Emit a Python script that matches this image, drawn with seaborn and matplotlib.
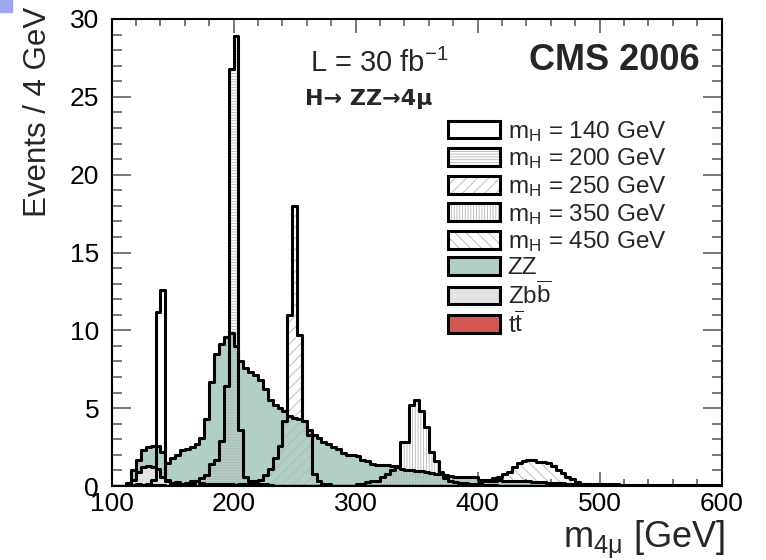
import numpy as np
import pandas as pd
import seaborn as sns
import matplotlib
matplotlib.use("Agg")
import matplotlib.pyplot as plt
from matplotlib.patches import Patch, Rectangle
from matplotlib.ticker import MultipleLocator
from matplotlib.legend_handler import HandlerTuple

# ---------------- data (Events / 4 GeV, bins 100..600) ----------------
bin_lo, bin_hi, bin_w = 100, 600, 4

zz = [0, 0, 0, 0.2, 1.0,  1.7, 2.3, 2.5, 2.6, 2.6,  2.2, 1.5, 1.8, 2.0, 2.3,
      2.4, 2.5, 2.7, 3.1, 4.3,  6.7, 8.5, 9.1, 9.6, 9.8,  9.0, 8.0, 7.6, 7.3, 7.1,
      6.8, 6.2, 5.5, 5.2, 5.0,  4.8, 4.5, 4.4, 4.3, 4.2,  3.6, 3.3, 3.1, 2.8, 2.7,
      2.5, 2.4, 2.1, 2.0, 2.0,  1.9, 1.7, 1.6, 1.4, 1.35,  1.35, 1.35, 1.3, 1.2, 1.1,
      1.0, 1.0, 0.95, 0.95, 0.9,  0.85, 0.8, 0.75, 0.7, 0.65,  0.6, 0.6, 0.6, 0.55, 0.55,
      0.4, 0.4, 0.35, 0.35, 0.4,  0.35, 0.3, 0.3, 0.3, 0.3,  0.3, 0.28, 0.25, 0.25, 0.22,
      0.2, 0.2, 0.18, 0.16, 0.15,  0.14, 0.13, 0.12, 0.12, 0.11,  0.11, 0.1, 0.1, 0.1, 0.09,
      0.09, 0.09, 0.08, 0.08, 0.08,  0.07, 0.07, 0.07, 0.07, 0.06,  0.06, 0.06, 0.06, 0.05, 0.05,
      0.05, 0.05, 0.04, 0.04, 0.04]

zbb = ([0, 0, 0, 0.1, 0.4,  0.9, 1.2, 1.3, 1.25, 1.1,  0.6, 0.3, 0.2, 0.25, 0.15,
        0.2, 0.3, 0.3, 0.2, 0.15,  0.1, 0.1, 0.15, 0.1, 0.1,  0.08, 0.1, 0.06, 0.05, 0.05]
       + [0.03] * 20 + [0.02] * 20 + [0.0] * 55)

ttbar = ([0, 0, 0, 0.05, 0.08,  0.1, 0.08, 0.06, 0.05, 0.05,  0.04, 0.03, 0.03, 0.02, 0.02]
         + [0.01] * 30 + [0.0] * 80)

sig140 = ([0.0] * 5 + [0, 0, 0.1, 0.4, 11.2,  12.6, 0.4, 0.15, 0.1, 0.05] + [0.0] * 110)

sig200 = ([0.0] * 15 + [0.1, 0.2, 0.3, 0.5, 0.7,  1.4, 1.7, 2.9, 6.4, 26.8,
                        28.9, 3.6, 0.6, 0.3, 0.2,  0.1, 0.1, 0.05, 0, 0] + [0.0] * 90)

sig250 = ([0.0] * 25 + [0, 0, 0.1, 0.2, 0.3,  0.4, 0.7, 1.1, 1.8, 2.6,
                        4.2, 11.0, 18.0, 9.7, 4.2,  3.3, 0.8, 0.3, 0.15, 0.1] + [0.0] * 80)

sig350 = ([0.0] * 50 + [0.1, 0.15, 0.25, 0.3, 0.35,  0.6, 0.75, 1.0, 1.3, 2.85,
                        2.85, 5.2, 5.5, 4.8, 3.8,  2.2, 1.6, 0.9, 0.5, 0.3,
                        0.25, 0.2, 0.2, 0.15, 0.1,  0.1, 0.08, 0.05, 0.05, 0.03] + [0.0] * 45)

sig450 = ([0.0] * 75 + [0.2, 0.3, 0.4, 0.5, 0.6,  0.75, 0.9, 1.25, 1.45, 1.6,
                        1.67, 1.67, 1.56, 1.56, 1.46,  1.3, 1.03, 0.81, 0.6, 0.45,
                        0.28, 0.15, 0.1, 0.05, 0.03] + [0.0] * 25)

signal_labels = ["140", "200", "250", "350", "450"]
legend_bkg = ["ZZ", r"Z$\mathregular{b\overline{b}}$", r"t$\mathregular{\overline{t}}$"]

edges = [float(e) for e in np.arange(bin_lo, bin_hi + bin_w, bin_w)]
centers = np.array(edges[:-1]) + bin_w / 2
for arr in (zz, zbb, ttbar, sig140, sig200, sig250, sig350, sig450):
    assert len(arr) == len(centers), len(arr)

# ---------------- style ----------------
sns.set_style("ticks")
plt.rcParams["font.family"] = ["Liberation Sans", "DejaVu Sans"]
plt.rcParams["mathtext.fontset"] = "custom"
plt.rcParams["mathtext.rm"] = "Liberation Sans"
plt.rcParams["mathtext.it"] = "Liberation Sans:italic"
plt.rcParams["mathtext.bf"] = "Liberation Sans:bold"
plt.rcParams["hatch.linewidth"] = 0.6

GREEN = "#b2cfc3"
GREY = "#e3e3e3"
RED = "#d55753"
HATCH_C = "#b5b5b5"
LW = 2.2

W, H = 766, 560
fig = plt.figure(figsize=(W / 100, H / 100), dpi=100)
ax = fig.add_axes([111.6 / W, 1 - 486 / H, 610 / W, 467 / H])

df = pd.DataFrame({"m": centers, "zz": zz, "zbb": zbb, "tt": ttbar,
                   "s140": sig140, "s200": sig200, "s250": sig250,
                   "s350": sig350, "s450": sig450})


def fill_hist(col, color, **kws):
    sns.histplot(data=df, x="m", weights=col, bins=edges, element="step",
                 fill=True, alpha=1, color=color, ax=ax, **kws)


def line_hist(col):
    sns.histplot(data=df, x="m", weights=col, bins=edges, element="step",
                 fill=False, color="black", linewidth=LW, ax=ax)


# backgrounds
fill_hist("zz", GREEN, facecolor=GREEN, edgecolor="none", linewidth=0)
fill_hist("zbb", GREY, facecolor=GREY, edgecolor="none", linewidth=0)
fill_hist("tt", RED, facecolor=RED, edgecolor="none", linewidth=0)

hatches = {"s140": None, "s200": "------", "s250": "///", "s350": "||||||", "s450": "\\\\\\"}
for col, h in hatches.items():
    if h:
        fill_hist(col, HATCH_C, facecolor="none", edgecolor=HATCH_C, linewidth=0, hatch=h)

for col in ["zz", "zbb", "tt", "s450", "s350", "s250", "s200", "s140"]:
    line_hist(col)

ax.set_xlim(100, 600)
ax.set_ylim(0, 30)
ax.set_xlabel("")
ax.set_ylabel("")
ax.xaxis.set_major_locator(MultipleLocator(100))
ax.xaxis.set_minor_locator(MultipleLocator(20))
ax.yaxis.set_major_locator(MultipleLocator(5))
ax.yaxis.set_minor_locator(MultipleLocator(1))
ax.tick_params(axis="both", which="both", direction="in", top=True, right=True,
               colors="#606060", labelcolor="black", width=1.2)
ax.tick_params(axis="y", which="major", length=14, labelsize=19, pad=9)
ax.tick_params(axis="y", which="minor", length=7)
ax.tick_params(axis="x", which="major", length=10, labelsize=19, pad=4)
ax.tick_params(axis="x", which="minor", length=5)
for s in ax.spines.values():
    s.set_visible(True)
    s.set_linewidth(1.5)
    s.set_color("black")

# axis titles
fig.text(38 / W, 1 - 112 / H, "Events / 4 GeV", rotation=90, ha="center",
         va="center", fontsize=22.5)
fig.text(725 / W, 1 - 548 / H, r"m$_{\mathregular{4\mu}}$ [GeV]", ha="right",
         va="baseline", fontsize=26)

# annotations
fig.text(310 / W, 1 - 72 / H, r"L = 30 fb$^{\mathregular{-1}}$", fontsize=21,
         va="baseline", ha="left")
fig.text(305 / W, 1 - 105 / H, "H\u2192 ZZ\u21924\u03bc", fontsize=16,
         fontweight="bold", va="baseline", ha="left", family=["DejaVu Sans"])
fig.text(700 / W, 1 - 70 / H, "CMS 2006", fontsize=26, fontweight="bold",
         va="baseline", ha="right")

# legend
handles, labels = [], []
for lab, col in zip(signal_labels, ["s140", "s200", "s250", "s350", "s450"]):
    h = hatches[col]
    p_h = Patch(facecolor="white", edgecolor=HATCH_C, linewidth=0, hatch=h)
    p_o = Patch(facecolor="none", edgecolor="black", linewidth=LW)
    handles.append((p_h, p_o))
    labels.append(r"m$_{\mathregular{H}}$ = " + lab + " GeV")
for lab, c in zip(legend_bkg, [GREEN, GREY, RED]):
    handles.append(Patch(facecolor=c, edgecolor="black", linewidth=LW))
    labels.append(lab)

leg = fig.legend(handles, labels, loc="upper left",
                 bbox_to_anchor=(448 / W, 1 - 119 / H),
                 frameon=False, fontsize=17.5, handlelength=2.15, handleheight=0.75,
                 labelspacing=0.11, handletextpad=0.3, borderpad=0, borderaxespad=0,
                 handler_map={tuple: HandlerTuple(ndivide=1, pad=0)})

# small corner mark of the original image
fig.patches.append(Rectangle((0, 1 - 12 / H), 12 / W, 12 / H,
                             transform=fig.transFigure, color="#9fa6f0", zorder=0))

fig.savefig("out.png", dpi=100)
